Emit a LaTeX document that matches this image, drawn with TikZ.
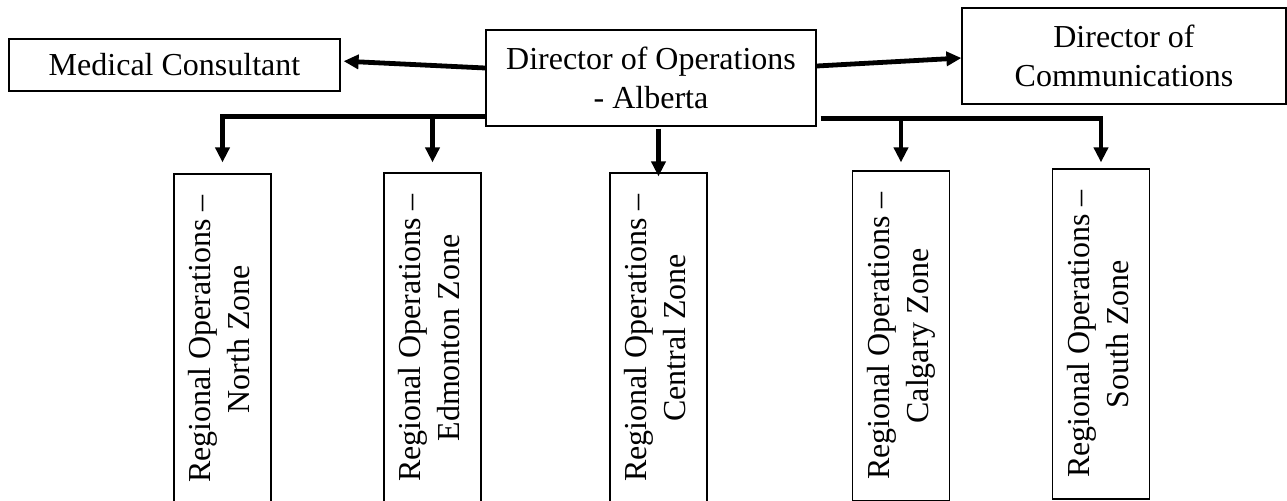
\documentclass[tikz,border=0pt]{standalone}
\usepackage{fontspec}
\setmainfont{Liberation Serif}
\usepackage{graphicx}
\usetikzlibrary{arrows.meta}
\newcommand{\zonelabel}[1]{\rotatebox{90}{\begin{tabular}{@{}c@{}}Regional Operations –\\#1\end{tabular}}}

\begin{document}
\begin{tikzpicture}[x=0.5pt, y=-0.5pt, >={Triangle[length=7.5pt,width=7pt]}, font=\fontsize{16}{19.5}\selectfont]
    \tikzstyle{block} = [draw, rectangle, line width=0.6pt, align=center, inner sep=0pt];
    \tikzstyle{zone} = [block, minimum width=48.5pt, minimum height=165pt];
    \tikzstyle{link} = [->, line width=2.4pt];
    \useasboundingbox (0,0) rectangle (1287,500);
    % top row
    \node [block, minimum width=165.5pt, minimum height=26pt] (med) at (174.5,65) {Medical Consultant};
    \node [block, minimum width=165pt, minimum height=48pt] (ops) at (651,78) {Director of Operations\\- Alberta};
    \node [block, minimum width=162pt, minimum height=48pt] (comm) at (1124,56) {Director of\\Communications};
    % zones
    \node [zone] (north) at (222.5,339) {\zonelabel{North Zone}};
    \node [zone] (edmonton) at (432.5,338) {\zonelabel{Edmonton Zone}};
    \node [zone] (central) at (658.5,338) {\zonelabel{Central Zone}};
    \node [zone] (calgary) at (901,336) {\zonelabel{Calgary Zone}};
    \node [zone] (south) at (1101,334) {\zonelabel{South Zone}};
    \coordinate (lbar) at ([yshift=5pt]ops.south west);
    \coordinate (rbar) at ([xshift=2pt,yshift=4pt]ops.south east);
    \draw [link, shorten >=1.5pt] ([yshift=5pt]ops.west) -- ([yshift=2pt]med.east);
    \draw [link] ([yshift=6pt]ops.east) -- ([yshift=-1pt]comm.west);
    \draw [link, shorten >=5.5pt] (lbar) -| (north.north);
    \draw [link, shorten >=5pt] (edmonton.north |- lbar) -- (edmonton.north);
    \draw [link, shorten <=1pt, shorten >=-2pt] (central.north |- ops.south) -- (central.north);
    \draw [link, shorten >=4pt] (calgary.north |- rbar) -- (calgary.north);
    \draw [link, shorten >=3pt] (rbar) -| (south.north);
\end{tikzpicture}
\end{document}
